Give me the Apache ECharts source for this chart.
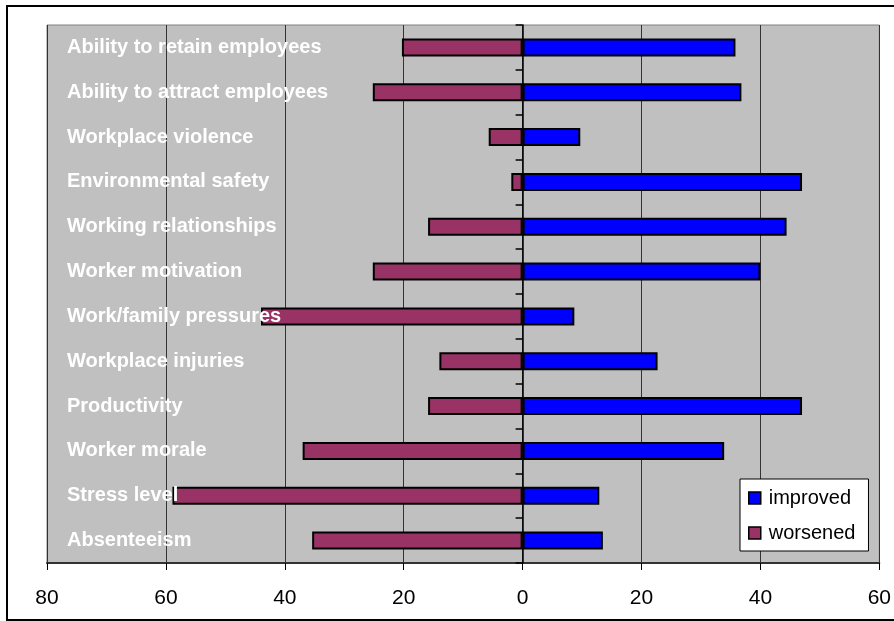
<!DOCTYPE html>
<html>
<head>
<meta charset="utf-8">
<script src="https://cdn.jsdelivr.net/npm/echarts@6/dist/echarts.min.js"></script>
<style>
html,body{margin:0;padding:0;background:#fff;}
#chart{width:894px;height:621px;}
</style>
</head>
<body>
<div id="chart"></div>
<script>
// Categories listed top to bottom
const categories = [
  "Ability to retain employees",
  "Ability to attract employees",
  "Workplace violence",
  "Environmental safety",
  "Working relationships",
  "Worker motivation",
  "Work/family pressures",
  "Workplace injuries",
  "Productivity",
  "Worker morale",
  "Stress level",
  "Absenteeism"
];
const improved = [35.8, 36.8, 9.7, 47.0, 44.4, 40.0, 8.7, 22.7, 47.0, 33.9, 12.9, 13.5];
const worsened = [-20.3, -25.2, -5.7, -1.9, -15.9, -25.2, -44.0, -14.0, -15.9, -37.0, -58.9, -35.4];
const xTicks = [-80, -60, -40, -20, 0, 20, 40, 60];

const chart = echarts.init(document.getElementById('chart'), null, {renderer: 'canvas'});
const font = 'Arial, "Liberation Sans", sans-serif';
chart.setOption({
  animation: false,
  backgroundColor: '#ffffff',
  textStyle: {fontFamily: font},
  graphic: [{
    type: 'rect',
    shape: {x: 7, y: 6, width: 900, height: 614},
    style: {fill: 'none', stroke: '#000', lineWidth: 2},
    silent: true
  }],
  grid: {
    left: 47, top: 25, right: 12, bottom: 58,
    show: true, backgroundColor: '#c0c0c0', borderColor: '#808080', borderWidth: 1
  },
  legend: {
    orient: 'vertical',
    left: 740, top: 479,
    padding: [9, 13, 8, 8],
    itemGap: 15,
    itemWidth: 12, itemHeight: 12,
    backgroundColor: '#ffffff',
    borderColor: '#000', borderWidth: 1,
    icon: 'rect',
    itemStyle: {borderColor: '#000', borderWidth: 1.5},
    textStyle: {fontSize: 20, color: '#000', fontFamily: font, padding: [0, 0, 0, 3]},
    data: ['improved', 'worsened']
  },
  xAxis: {
    type: 'value',
    min: xTicks[0], max: xTicks[xTicks.length - 1], interval: 20,
    axisLine: {show: true, lineStyle: {color: '#333', width: 2}},
    axisTick: {show: true, length: 7, lineStyle: {color: '#000', width: 1}},
    axisLabel: {fontSize: 21, color: '#000', margin: 25, fontFamily: font,
      formatter: v => String(Math.abs(v))},
    splitLine: {show: true, lineStyle: {color: '#333', width: 1}}
  },
  yAxis: [{
    type: 'category',
    data: categories,
    inverse: true,
    axisLine: {show: true, onZero: true, lineStyle: {color: '#000', width: 1.5}},
    axisTick: {show: true, length: 7, lineStyle: {color: '#000', width: 1.5}},
    axisLabel: {show: false},
    splitLine: {show: false},
    z: 5
  }, {
    type: 'category',
    data: categories,
    inverse: true,
    position: 'left',
    axisLine: {show: false, onZero: false},
    axisTick: {show: false},
    axisLabel: {show: true, inside: true, margin: 20, color: '#ffffff',
      fontSize: 20, fontWeight: 'bold', fontFamily: font, align: 'left'},
    splitLine: {show: false},
    z: 10
  }],
  series: [{
    name: 'improved',
    type: 'bar',
    yAxisIndex: 0,
    data: improved,
    barWidth: 18,
    barGap: '-100%',
    itemStyle: {color: '#0000ff', borderColor: '#000', borderWidth: 2}
  }, {
    name: 'worsened',
    type: 'bar',
    yAxisIndex: 0,
    data: worsened,
    barWidth: 18,
    barGap: '-100%',
    itemStyle: {color: '#993366', borderColor: '#000', borderWidth: 2}
  }]
});
</script>
</body>
</html>
